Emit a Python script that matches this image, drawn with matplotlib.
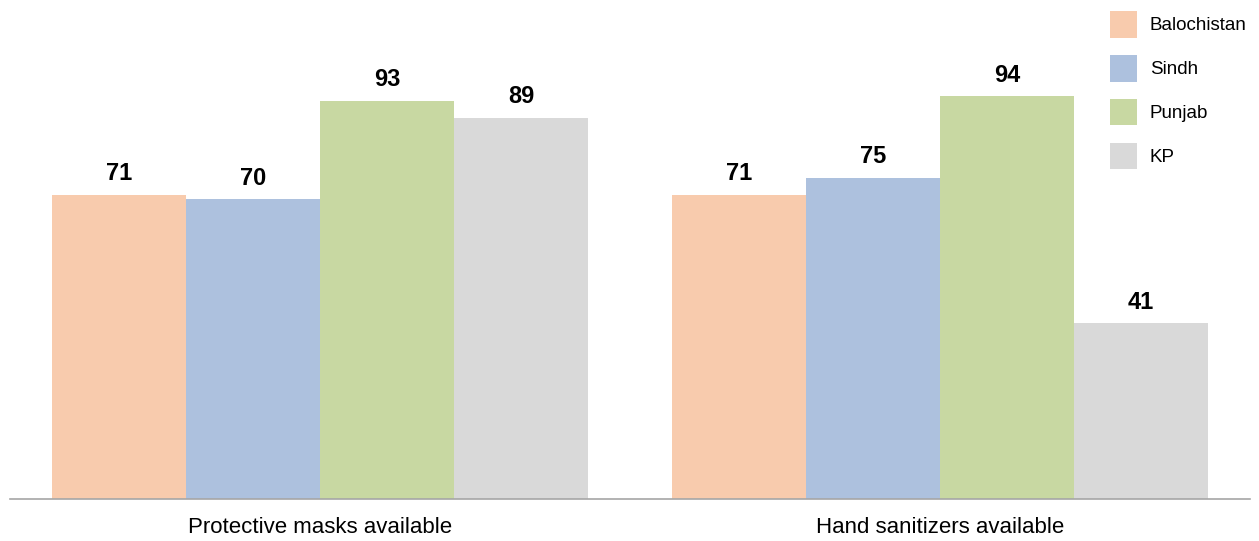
import matplotlib
matplotlib.use("Agg")
import matplotlib.pyplot as plt
import numpy as np
from matplotlib.patches import Patch

categories = ["Protective masks available", "Hand sanitizers available"]
series = ["Balochistan", "Sindh", "Punjab", "KP"]
values = {
    "Balochistan": [71, 71],
    "Sindh": [70, 75],
    "Punjab": [93, 94],
    "KP": [89, 41],
}
colors = ["#F8CBAD", "#ADC1DE", "#C8D8A2", "#D9D9D9"]

plt.rcParams['font.family'] = ['Liberation Sans', 'DejaVu Sans']

fig = plt.figure(figsize=(12.59, 5.41), dpi=100)
ax = fig.add_axes([10/1259, 1 - 499/541, 1240/1259, 499/541])

x = np.arange(len(categories))
w = 0.216
for i, s in enumerate(series):
    pos = x + (i - 1.5) * w
    bars = ax.bar(pos, values[s], width=w, color=colors[i], label=s)
    for b, v in zip(bars, values[s]):
        ax.text(b.get_x() + b.get_width() / 2, v + 2.2, str(v), ha='center', va='bottom',
                fontsize=17, fontweight='bold', color='black')

ax.set_xlim(-0.5, 1.5)
ax.set_ylim(0, 116.5)
ax.set_yticks([])
for sp in ['top', 'right', 'left']:
    ax.spines[sp].set_visible(False)
ax.spines['bottom'].set_color('#A6A6A6')
ax.spines['bottom'].set_linewidth(1.2)
ax.set_xticks(x)
ax.set_xticklabels(categories, fontsize=16)
ax.tick_params(axis='x', length=0, pad=13)

handles = [Patch(facecolor=c, edgecolor='none') for c in colors]
fig.legend(handles, series, loc='upper left', bbox_to_anchor=(1110/1259, 1 - 11/541),
           frameon=False, fontsize=13.5, handlelength=1.44, handleheight=1.8,
           labelspacing=0.93, handletextpad=0.69, borderpad=0.0, borderaxespad=0.0)

fig.savefig("out.png", dpi=100)
